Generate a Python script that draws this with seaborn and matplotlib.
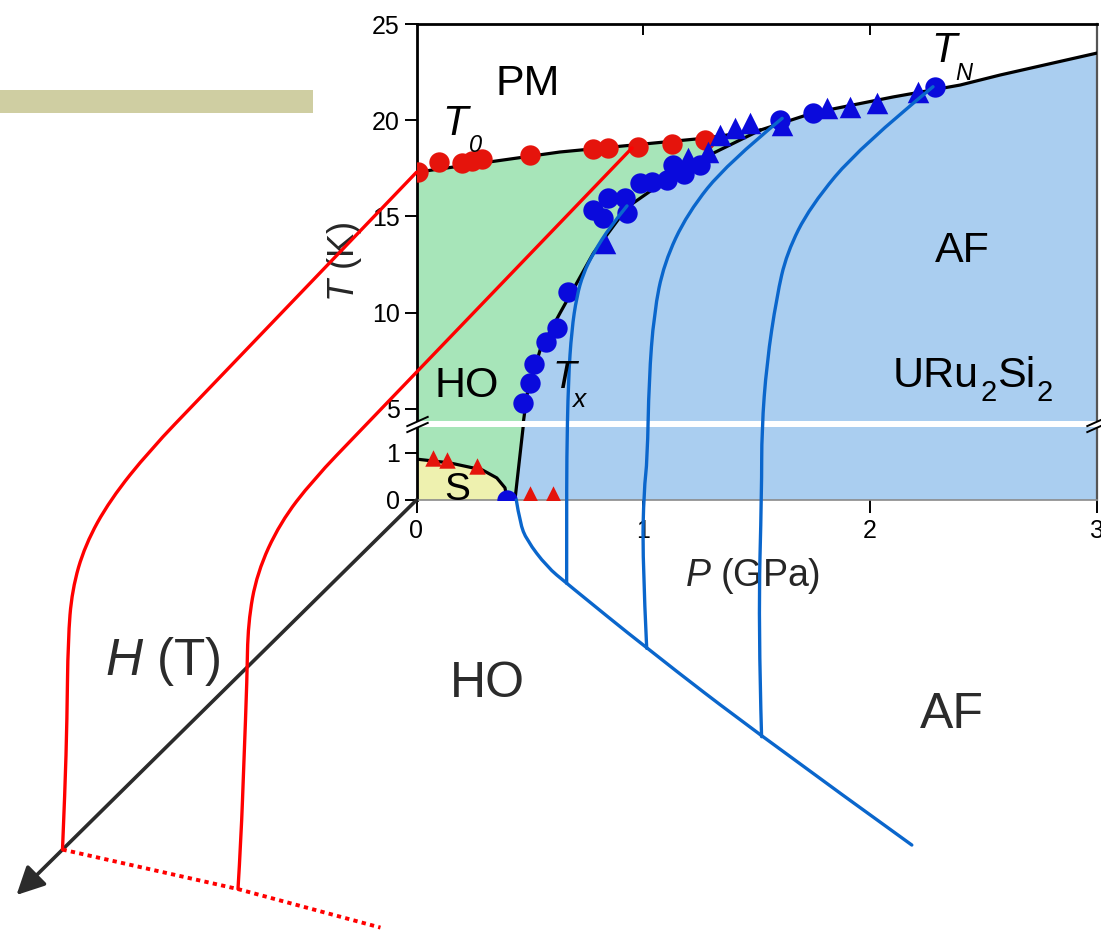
import numpy as np
import matplotlib
matplotlib.use("Agg")
import matplotlib.pyplot as plt
from matplotlib.path import Path
from matplotlib.patches import PathPatch, Rectangle, FancyArrowPatch
from matplotlib.lines import Line2D
import seaborn as sns

# ---------------- phase boundaries of URu2Si2: P (GPa), T (K) ----------------
t0_line_p = [0.0, 0.632, 1.281, 1.516]
t0_line_t = [17.3, 18.35, 19.08, 19.49]
tn_line_p = [1.516, 1.748, 2.101, 2.397, 2.573, 3.0]
tn_line_t = [19.49, 20.38, 21.21, 21.83, 22.35, 23.49]
tx_line_p = [0.434, 0.470, 0.472, 0.487, 0.545, 0.633, 0.780, 0.930, 1.120, 1.310, 1.516]
tx_line_t = [0.0, 1.55, 4.40, 5.73, 8.07, 9.99, 13.10, 15.49, 17.05, 18.30, 19.49]
sc_line_p = [0.0, 0.146, 0.290, 0.354, 0.390, 0.400]
sc_line_t = [0.87, 0.79, 0.64, 0.47, 0.26, 0.0]

# ---------------- measured transition points ----------------
t0_p = [0.007, 0.099, 0.201, 0.245, 0.289, 0.500, 0.778, 0.844, 0.977, 1.127, 1.272]
t0_t = [17.31, 17.83, 17.78, 17.88, 17.99, 18.19, 18.51, 18.56, 18.61, 18.77, 18.97]
tx_p = [0.399, 0.470, 0.500, 0.518, 0.571, 0.619, 0.668, 0.778, 0.822, 0.844,
        0.919, 0.928, 0.985, 1.038, 1.104, 1.131, 1.179, 1.250]
tx_t = [0.0, 5.31, 6.35, 7.34, 8.48, 9.21, 11.08, 15.34, 14.92, 15.96,
        15.96, 15.18, 16.74, 16.79, 16.90, 17.68, 17.21, 17.68]
tn_circ_p = [1.603, 1.748, 2.286]
tn_circ_t = [20.01, 20.38, 21.73]
tn_tri_p = [0.831, 1.197, 1.285, 1.338, 1.404, 1.470, 1.612, 1.810, 1.911, 2.030, 2.211]
tn_tri_t = [13.62, 18.04, 18.35, 19.23, 19.60, 19.86, 19.75, 20.64, 20.69, 20.90, 21.47]
sc_tri_p = [0.073, 0.134, 0.267, 0.500, 0.602]
sc_tri_t = [0.90, 0.85, 0.72, 0.13, 0.13]

# ---------------- field-dependent boundaries: (P, H in tesla, T) ----------------
ho1_p = [0.0] * 10
ho1_h = [0.0, 21.65, 26.65, 30.65, 33.15, 34.45, 34.85, 34.95, 35.15, 35.4]
ho1_t = [17.3, 16.68, 16.54, 16.0, 14.94, 13.27, 10.88, 6.77, 1.21, 0.0]
ho2_p = [0.95] * 10
ho2_h = [0.0, 27.2, 31.9, 35.2, 37.5, 38.4, 38.5, 38.8, 39.1, 39.4]
ho2_t = [18.56, 17.81, 17.68, 17.14, 15.72, 13.58, 10.67, 6.67, 0.98, 0.0]
hc_p = [0.0, 0.95, 1.75]
hc_h = [35.4, 39.4, 43.3]
hc_t = [0.0, 0.0, 0.0]
afa_p = [0.928] * 9 + [1.034]
afa_h = [0.0, 1.7, 3.37, 4.37, 5.03, 5.53, 5.87, 6.03, 6.03, 8.44]
afa_t = [15.55, 15.34, 14.82, 14.29, 13.42, 11.94, 9.52, 5.44, 0.84, 0.0]
afb_p = [1.612] * 9 + [1.677]
afb_h = [0.0, 5.48, 9.48, 11.82, 12.82, 13.32, 13.48, 13.82, 13.98, 15.02]
afb_t = [20.1, 20.57, 20.03, 18.63, 16.55, 13.34, 9.27, 7.88, 4.5, 0.0]
afc_p = [2.277] * 9 + [2.578]
afc_h = [0.0, 7.3, 12.3, 14.63, 15.63, 16.63, 17.13, 17.13, 17.47, 23.97]
afc_t = [21.74, 22.37, 21.82, 20.6, 18.85, 15.9, 12.7, 9.58, 1.05, 0.0]
pc_p = [0.44, 0.559, 0.664, 0.872, 1.034, 1.677, 2.578, 3.724]
pc_h = [0.0, 2.33, 4.05, 6.75, 8.44, 15.02, 23.97, 34.94]
pc_t = [0.0] * 8
h_axis_max = 40.0

# ---------------- style ----------------
sns.set_theme(style="white")
plt.rcParams["font.family"] = ["Liberation Sans", "DejaVu Sans"]
plt.rcParams["mathtext.fontset"] = "custom"
plt.rcParams["mathtext.rm"] = "Liberation Sans"
plt.rcParams["mathtext.it"] = "Liberation Sans:italic"
plt.rcParams["mathtext.bf"] = "Liberation Sans:bold"

RED = "#E5140C"
BLUE = "#0A0ADC"
CURVE_BLUE = "#0A66CC"
LINE_RED = "#FF0000"
GREEN = "#A7E5B9"
AF_BLUE = "#AACEF0"
YELLOW = "#EEF1AF"
INK = "#2B2B2B"

W, H = 1101, 932
fig = plt.figure(figsize=(W / 100, H / 100), dpi=100)
ax = fig.add_axes([416.5 / W, 1 - 500 / H, 680.5 / W, 476 / H])

# broken temperature axis: 0-1.55 K expanded, 4.4-25 K normal
BRK_LO, BRK_HI = 1.55, 4.4
K_LOW = 47 / 19.25
GAP = 6.6 / 19.25


def fwd(t):
    t = np.asarray(t, dtype=float)
    return np.where(t <= BRK_LO, K_LOW * t,
                    np.where(t >= BRK_HI, K_LOW * BRK_LO + GAP + (t - BRK_HI),
                             K_LOW * BRK_LO + (t - BRK_LO) * GAP / (BRK_HI - BRK_LO)))


def inv(u):
    u = np.asarray(u, dtype=float)
    u_lo = K_LOW * BRK_LO
    u_hi = u_lo + GAP
    return np.where(u <= u_lo, u / K_LOW,
                    np.where(u >= u_hi, BRK_HI + (u - u_hi),
                             BRK_LO + (u - u_lo) * (BRK_HI - BRK_LO) / GAP))


# ---------------- phase regions ----------------
ho_x = [0.0] + t0_line_p + tx_line_p[::-1]
ho_y = [0.0] + t0_line_t + tx_line_t[::-1]
ax.fill(ho_x, ho_y, color=GREEN, lw=0, zorder=1)
af_x = tx_line_p + tn_line_p[1:] + [3.0]
af_y = tx_line_t + tn_line_t[1:] + [0.0]
ax.fill(af_x, af_y, color=AF_BLUE, lw=0, zorder=1)
sc_x = [0.0] + sc_line_p
sc_y = [0.0] + sc_line_t
ax.fill(sc_x, sc_y, color=YELLOW, lw=0, zorder=1.1)

# ---------------- boundary lines ----------------
for bx, by in [(t0_line_p, t0_line_t), (tn_line_p, tn_line_t),
               (tx_line_p, tx_line_t), (sc_line_p, sc_line_t)]:
    sns.lineplot(x=bx, y=by, sort=False, estimator=None, color="black",
                 linewidth=2.3, ax=ax, zorder=3)

# ---------------- data points ----------------
sns.scatterplot(x=t0_p, y=t0_t, color=RED, marker="o", s=215, linewidth=0, ax=ax, zorder=5)
sns.scatterplot(x=tx_p, y=tx_t, color=BLUE, marker="o", s=215, linewidth=0, ax=ax, zorder=5)
sns.scatterplot(x=tn_circ_p, y=tn_circ_t, color=BLUE, marker="o", s=215, linewidth=0, ax=ax, zorder=5)
sns.scatterplot(x=tn_tri_p, y=tn_tri_t, color=BLUE, marker="^", s=240, linewidth=0, ax=ax, zorder=5)
sns.scatterplot(x=sc_tri_p, y=sc_tri_t, color=RED, marker="^", s=140, linewidth=0, ax=ax, zorder=5)

ax.set_yscale("function", functions=(fwd, inv))
ax.set_xlim(0, 3)
ax.set_ylim(0, 25)

# white strip marking the axis break
ax.axhspan(BRK_LO, BRK_HI, xmin=-0.012, xmax=1.01, color="white", lw=0,
           zorder=4.5, clip_on=False)
slash = Path([(-1.0, -0.45), (1.0, 0.45)])
ax.plot([0, 0, 3, 3], [BRK_LO, BRK_HI, BRK_LO, BRK_HI], ls="none", marker=slash,
        markersize=16, markeredgewidth=1.4, color="black", clip_on=False, zorder=6)

# ---------------- axes styling ----------------
ax.set_xticks([0, 1, 2, 3])
ax.set_xticklabels(["0", "1", "2", "3"])
ax.set_yticks([0, 1, 5, 10, 15, 20, 25])
ax.set_yticklabels(["0", "1", "5", "10", "15", "20", "25"])
ax.tick_params(axis="both", which="major", direction="out", length=9, width=1.4,
               color="black", labelsize=18, labelcolor="black", pad=3,
               bottom=True, left=True)
ax.tick_params(axis="x", pad=5)
top = ax.secondary_xaxis("top")
top.set_xticks([1, 2])
top.tick_params(direction="in", length=8, width=1.4, labeltop=False, color="black")
top.spines["top"].set_visible(False)

ax.spines["left"].set_color("black")
ax.spines["left"].set_linewidth(2.0)
ax.spines["top"].set_color("black")
ax.spines["top"].set_linewidth(2.0)
ax.spines["right"].set_color("#555555")
ax.spines["right"].set_linewidth(1.6)
ax.spines["bottom"].set_color("#8A8A8A")
ax.spines["bottom"].set_linewidth(1.2)

ax.set_xlabel("$P$ (GPa)", fontsize=27, va="center")
ax.xaxis.set_label_coords((753 - 416.5) / 680.5, (500 - 576) / 476)
ax.set_ylabel("$T$ (K)", fontsize=26, va="center")
ax.yaxis.set_label_coords((345 - 416.5) / 680.5, 0.5)

# ---------------- field axis (oblique projection) ----------------
H_STEP = np.array([-10.0, -9.875]) * fig.dpi / 100.0
to_fig = fig.transFigure.inverted()


def project(p, h, t):
    pts = ax.transData.transform(np.column_stack([p, t]))
    pts = pts + np.outer(np.asarray(h, float), H_STEP)
    return to_fig.transform(pts)


def smooth_path(pts):
    n = len(pts)
    verts = [pts[0]]
    codes = [Path.MOVETO]
    for i in range(1, n - 1):
        end = pts[n - 1] if i == n - 2 else (pts[i] + pts[i + 1]) / 2.0
        verts += [pts[i], end]
        codes += [Path.CURVE3, Path.CURVE3]
    return Path(verts, codes)


def draw_curve(p, h, t, color, lw=2.4):
    patch = PathPatch(smooth_path(project(p, h, t)), transform=fig.transFigure,
                      fill=False, edgecolor=color, lw=lw, capstyle="round",
                      joinstyle="round", zorder=3)
    fig.add_artist(patch)


origin, tip = project([0.0, 0.0], [0.0, h_axis_max], [0.0, 0.0])
fig.add_artist(FancyArrowPatch(origin, tip, transform=fig.transFigure,
                               arrowstyle="-|>,head_length=1.0,head_width=0.5",
                               mutation_scale=17, lw=2.6, color=INK,
                               shrinkA=0, shrinkB=0, zorder=2.5))

draw_curve(ho1_p, ho1_h, ho1_t, LINE_RED)
draw_curve(ho2_p, ho2_h, ho2_t, LINE_RED)
hc_pts = project(hc_p, hc_h, hc_t)
fig.add_artist(Line2D(hc_pts[:, 0], hc_pts[:, 1], transform=fig.transFigure,
                      color=LINE_RED, lw=2.8, ls=(0, (1.1, 1.1)),
                      dash_capstyle="butt", zorder=3))
draw_curve(pc_p, pc_h, pc_t, CURVE_BLUE)
draw_curve(afa_p, afa_h, afa_t, CURVE_BLUE)
draw_curve(afb_p, afb_h, afb_t, CURVE_BLUE)
draw_curve(afc_p, afc_h, afc_t, CURVE_BLUE)

# decorative header bar
fig.add_artist(Rectangle((0, 1 - 113 / H), 313 / W, 23 / H, transform=fig.transFigure,
                         color="#CFCEA2", lw=0, zorder=0.5))


# ---------------- labels ----------------
def fpos(x, y):
    return x / W, 1 - y / H


def label(x, y, s, size, ha="center", color="black", style="normal"):
    return fig.text(*fpos(x, y), s, ha=ha, va="baseline", fontsize=size,
                    color=color, style=style, zorder=7)


label(528, 95, "PM", 31)
label(962, 262, "AF", 31)
label(467, 397, "HO", 31)

# chemical formula with lowered subscripts, laid out piece by piece
renderer = fig.canvas.get_renderer()
x_cursor = 893.0
for piece, size, drop in [("URu", 31, 0), ("2", 21, 14), ("Si", 31, 0), ("2", 21, 14)]:
    txt = label(x_cursor, 387 + drop, piece, size, ha="left")
    x_cursor = txt.get_window_extent(renderer).x1 * 100.0 / fig.dpi + 1.0

label(457, 500, "S", 28)
label(442, 135, "T", 30, ha="left", style="italic")
label(469, 152, "0", 17, ha="left", style="italic")
label(931, 62, "T", 30, ha="left", style="italic")
label(955, 80, "N", 17, ha="left", style="italic")
label(552, 388, "T", 28, ha="left", style="italic")
label(572, 407, "x", 19, ha="left", style="italic")
label(163, 675, "$H$ (T)", 37, color=INK)
label(487, 697, "HO", 36, color=INK)
label(952, 728, "AF", 36, color=INK)

fig.savefig("out.png", dpi=100)
